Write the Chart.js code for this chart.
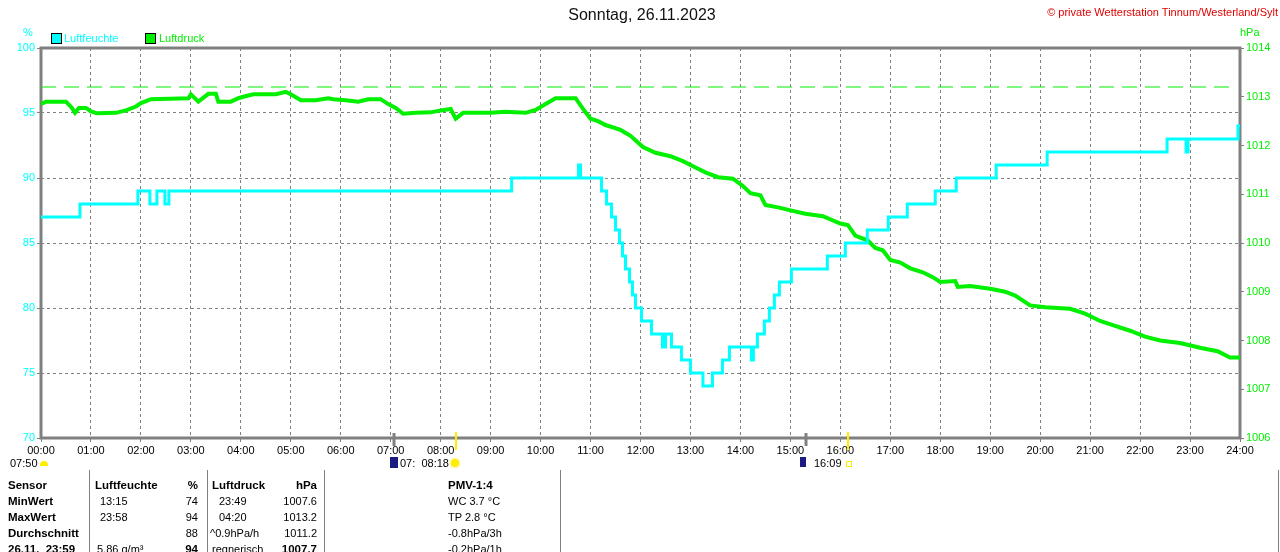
<!DOCTYPE html>
<html>
<head>
<meta charset="utf-8">
<script src="https://cdn.jsdelivr.net/npm/chart.js@4"></script>
<style>
  body { margin: 0; background: #fff; width: 1280px; height: 552px; overflow: hidden; position: relative;
         font-family: Arial, "Liberation Sans", sans-serif; font-size: 11px; color: #000; }
  #wrap { position: absolute; left: 0; top: 0; width: 1280px; height: 470px; }
  .t { position: absolute; white-space: nowrap; line-height: 14px; }
  .b { font-weight: bold; font-size: 11.5px; }
  .r { text-align: right; }
  .sep { position: absolute; top: 470px; height: 82px; width: 1px; background: #808080; }
  .box { position: absolute; width: 9px; height: 9px; border: 1px solid #000; }
</style>
</head>
<body>
<div id="wrap"><canvas id="chart"></canvas></div>

<div class="t" style="left:0;width:1284px;top:6px;text-align:center;font-size:16px;line-height:18px;color:#111">Sonntag, 26.11.2023</div>
<div class="t" style="right:2px;top:5px;color:#e00000">© private Wetterstation Tinnum/Westerland/Sylt</div>
<div class="t" style="left:23px;top:25px;color:#00ffff">%</div>
<div class="t" style="left:1240px;top:25px;color:#00f000">hPa</div>
<div class="box" style="left:51px;top:33px;background:#00ffff"></div>
<div class="t" style="left:64px;top:31px;color:#00ffff">Luftfeuchte</div>
<div class="box" style="left:145px;top:33px;background:#00f000"></div>
<div class="t" style="left:159px;top:31px;color:#00f000">Luftdruck</div>

<!-- sun / moon markers under the axis -->
<div class="t" style="left:10px;top:456px">07:50</div>
<div style="position:absolute;left:40px;top:461px;width:8px;height:5px;background:#ffee00;border-radius:4px 4px 0 0"></div>
<div style="position:absolute;left:390px;top:457px;width:8px;height:11px;background:#1a1a80"></div>
<div class="t" style="left:400px;top:456px">07:&nbsp; 08:18</div>
<div style="position:absolute;left:451px;top:459px;width:8px;height:8px;background:#ffee00;border-radius:50%;box-shadow:0 0 2px 1px #ffee88"></div>
<div style="position:absolute;left:800px;top:457px;width:6px;height:10px;background:#1a1a80"></div>
<div class="t" style="left:814px;top:456px">16:09</div>
<div style="position:absolute;left:846px;top:461px;width:4px;height:4px;border:1px solid #ffee00"></div>

<!-- table -->
<div class="sep" style="left:89px"></div>
<div class="sep" style="left:207px"></div>
<div class="sep" style="left:324px"></div>
<div class="sep" style="left:560px"></div>
<div class="sep" style="left:1278px"></div>

<div class="t b" style="left:8px;top:478px">Sensor</div>
<div class="t b" style="left:8px;top:494px">MinWert</div>
<div class="t b" style="left:8px;top:510px">MaxWert</div>
<div class="t b" style="left:8px;top:526px">Durchschnitt</div>
<div class="t b" style="left:8px;top:542px">26.11.&nbsp; 23:59</div>

<div class="t b" style="left:95px;top:478px">Luftfeuchte</div>
<div class="t" style="left:100px;top:494px">13:15</div>
<div class="t" style="left:100px;top:510px">23:58</div>
<div class="t" style="left:97px;top:542px">5.86 g/m³</div>

<div class="t b r" style="left:150px;width:48px;top:478px">%</div>
<div class="t r" style="left:150px;width:48px;top:494px">74</div>
<div class="t r" style="left:150px;width:48px;top:510px">94</div>
<div class="t r" style="left:150px;width:48px;top:526px">88</div>
<div class="t b r" style="left:150px;width:48px;top:542px">94</div>

<div class="t b" style="left:212px;top:478px">Luftdruck</div>
<div class="t" style="left:219px;top:494px">23:49</div>
<div class="t" style="left:219px;top:510px">04:20</div>
<div class="t" style="left:210px;top:526px">^0.9hPa/h</div>
<div class="t" style="left:212px;top:542px">regnerisch</div>

<div class="t b r" style="left:260px;width:57px;top:478px">hPa</div>
<div class="t r" style="left:260px;width:57px;top:494px">1007.6</div>
<div class="t r" style="left:260px;width:57px;top:510px">1013.2</div>
<div class="t r" style="left:260px;width:57px;top:526px">1011.2</div>
<div class="t b r" style="left:260px;width:57px;top:542px">1007.7</div>

<div class="t b" style="left:448px;top:478px">PMV-1:4</div>
<div class="t" style="left:448px;top:494px">WC 3.7 °C</div>
<div class="t" style="left:448px;top:510px">TP 2.8 °C</div>
<div class="t" style="left:448px;top:526px">-0.8hPa/3h</div>
<div class="t" style="left:448px;top:542px">-0.2hPa/1h</div>

<script>
// Humidity (%) - time of change in hours, new value
const humTimes = [0, 0.78, 1.94, 2.18, 2.32, 2.48, 2.56, 9.42, 10.76, 10.80,
    11.22, 11.32, 11.42, 11.50, 11.58, 11.64, 11.70, 11.78, 11.84, 11.90,
    12.02, 12.22, 12.44, 12.50, 12.62, 12.82, 13.00, 13.25, 13.44, 13.64,
    13.78, 14.22, 14.26, 14.34, 14.48, 14.58, 14.68, 14.78, 15.02, 15.74,
    16.10, 16.54, 16.96, 17.34, 17.90, 18.32, 19.12, 20.14, 22.54, 22.92,
    22.96, 23.96, 24];
const humValues = [87, 88, 89, 88, 89, 88, 89, 90, 91, 90,
    89, 88, 87, 86, 85, 84, 83, 82, 81, 80,
    79, 78, 77, 78, 77, 76, 75, 74, 75, 76,
    77, 76, 77, 78, 79, 80, 81, 82, 83, 84,
    85, 86, 87, 88, 89, 90, 91, 92, 93, 92,
    93, 94, 94];

// Air pressure (hPa)
const presTimes = [0.00, 0.10, 0.50, 0.62, 0.68, 0.76, 0.90, 1.00, 1.12, 1.50,
    1.70, 1.90, 2.00, 2.20, 2.95, 3.00, 3.15, 3.35, 3.50, 3.55,
    3.80, 3.95, 4.05, 4.25, 4.70, 4.90, 5.00, 5.20, 5.50, 5.75,
    5.85, 6.10, 6.35, 6.55, 6.80, 6.95, 7.10, 7.25, 7.50, 7.80,
    8.00, 8.20, 8.30, 8.45, 9.00, 9.30, 9.70, 9.90, 10.10, 10.30,
    10.70, 10.85, 11.00, 11.15, 11.30, 11.60, 11.80, 12.05, 12.30, 12.60,
    12.85, 13.10, 13.30, 13.55, 13.85, 14.05, 14.20, 14.40, 14.50, 14.80,
    15.00, 15.30, 15.65, 16.00, 16.15, 16.30, 16.55, 16.70, 16.85, 17.00,
    17.20, 17.40, 17.65, 17.85, 18.00, 18.30, 18.35, 18.60, 19.00, 19.30,
    19.50, 19.80, 20.10, 20.60, 20.90, 21.20, 21.50, 21.80, 22.10, 22.40,
    22.80, 23.20, 23.55, 23.80, 24.00];
const presValues = [1012.85, 1012.90, 1012.90, 1012.77, 1012.67, 1012.77, 1012.77, 1012.70, 1012.66, 1012.67,
    1012.72, 1012.80, 1012.87, 1012.95, 1012.97, 1013.05, 1012.90, 1013.06, 1013.06, 1012.90,
    1012.90, 1012.97, 1013.00, 1013.05, 1013.05, 1013.10, 1013.05, 1012.93, 1012.93, 1012.97,
    1012.95, 1012.93, 1012.90, 1012.95, 1012.95, 1012.85, 1012.77, 1012.65, 1012.67, 1012.68,
    1012.72, 1012.75, 1012.55, 1012.67, 1012.67, 1012.69, 1012.67, 1012.73, 1012.85, 1012.97,
    1012.97, 1012.75, 1012.55, 1012.50, 1012.42, 1012.32, 1012.20, 1011.97, 1011.85, 1011.78,
    1011.68, 1011.55, 1011.45, 1011.35, 1011.32, 1011.17, 1011.02, 1010.98, 1010.78, 1010.72,
    1010.67, 1010.60, 1010.55, 1010.40, 1010.37, 1010.15, 1010.05, 1009.90, 1009.85, 1009.65,
    1009.60, 1009.48, 1009.40, 1009.30, 1009.20, 1009.22, 1009.10, 1009.12, 1009.06, 1009.00,
    1008.92, 1008.72, 1008.68, 1008.65, 1008.55, 1008.40, 1008.30, 1008.20, 1008.08, 1008.00,
    1007.95, 1007.85, 1007.78, 1007.65, 1007.65];

// Max pressure reference line
const presMax = 1013.2;
const presMaxRange = [0, 23.8];

// Axis ranges
const humTicks = [70, 100, 5];
const presTicks = [1006, 1014, 1];

// Sunrise / sunset marks and moon marks (hours)
const sunMarks = [8.30, 16.15];
const moonMarks = [7.06, 15.32];

const tickFont = { family: 'Arial, "Liberation Sans", sans-serif', size: 11 };

// Frame and day markers
const framePlugin = {
    id: 'frame',
    beforeDatasetsDraw(chart) {
        const { ctx, chartArea: a } = chart;
        ctx.save();
        ctx.strokeStyle = '#808080';
        ctx.lineWidth = 3;
        ctx.strokeRect(a.left, a.top, a.right - a.left, a.bottom - a.top);
        ctx.restore();
    },
    afterDraw(chart) {
        const { ctx, chartArea: a } = chart;
        const xs = chart.scales.x;
        ctx.save();
        ctx.lineWidth = 3;
        ctx.strokeStyle = '#808080';
        moonMarks.forEach(t => {
            const px = Math.round(xs.getPixelForValue(t));
            ctx.beginPath(); ctx.moveTo(px, a.bottom - 5); ctx.lineTo(px, a.bottom + 8); ctx.stroke();
        });
        ctx.lineWidth = 2;
        ctx.strokeStyle = '#ffee00';
        sunMarks.forEach(t => {
            const px = Math.round(xs.getPixelForValue(t));
            ctx.beginPath(); ctx.moveTo(px, a.bottom - 6); ctx.lineTo(px, a.bottom + 12); ctx.stroke();
        });
        ctx.restore();
    }
};

const ctx = document.getElementById('chart').getContext('2d');
new Chart(ctx, {
    type: 'line',
    data: {
        datasets: [
            {
                label: 'Luftfeuchte',
                data: humTimes.map((t, i) => ({ x: t, y: humValues[i] })),
                borderColor: '#00ffff',
                borderWidth: 3,
                stepped: 'before',
                pointRadius: 0,
                yAxisID: 'y'
            },
            {
                label: 'Luftdruck',
                data: presTimes.map((t, i) => ({ x: t, y: presValues[i] })),
                borderColor: '#00f000',
                borderWidth: 4,
                tension: 0,
                pointRadius: 0,
                yAxisID: 'y2'
            },
            {
                label: 'Max',
                data: presMaxRange.map(t => ({ x: t, y: presMax })),
                borderColor: '#00f000',
                borderWidth: 1,
                borderDash: [15, 8],
                pointRadius: 0,
                yAxisID: 'y2'
            }
        ]
    },
    options: {
        responsive: true,
        maintainAspectRatio: false,
        animation: false,
        devicePixelRatio: 1,
        layout: { padding: { top: 48, left: 0, right: 0, bottom: 0 } },
        plugins: { legend: { display: false }, tooltip: { enabled: false } },
        scales: {
            x: {
                type: 'linear',
                min: 0,
                max: 24,
                afterFit(scale) { scale.height = 32; },
                ticks: {
                    stepSize: 1,
                    autoSkip: false,
                    maxRotation: 0,
                    padding: 2,
                    color: '#000',
                    font: tickFont,
                    callback: v => String(v).padStart(2, '0') + ':00'
                },
                grid: {
                    color: '#808080',
                    borderDash: [3, 3],
                    tickBorderDash: [],
                    tickLength: 4,
                    tickColor: '#808080'
                },
                border: { display: false, dash: [3, 3] }
            },
            y: {
                position: 'left',
                min: humTicks[0],
                max: humTicks[1],
                afterFit(scale) { scale.width = 41; },
                ticks: { stepSize: humTicks[2], color: '#00ffff', font: tickFont, padding: 2,
                         callback: v => String(v) },
                grid: {
                    color: '#808080',
                    tickBorderDash: [],
                    tickLength: 4,
                    tickColor: '#808080'
                },
                border: { display: false, dash: [3, 3] }
            },
            y2: {
                position: 'right',
                min: presTicks[0],
                max: presTicks[1],
                afterFit(scale) { scale.width = 40; },
                ticks: { stepSize: presTicks[2], color: '#00f000', font: tickFont, padding: 2,
                         callback: v => String(v) },
                grid: { drawOnChartArea: false, tickLength: 4, tickColor: '#808080' },
                border: { display: false }
            }
        }
    },
    plugins: [framePlugin]
});
</script>
</body>
</html>
